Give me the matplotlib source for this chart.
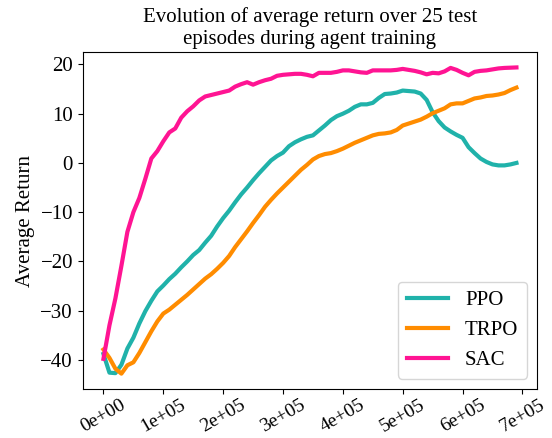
import matplotlib
matplotlib.use("Agg")
import matplotlib.pyplot as plt
import numpy as np
from matplotlib.ticker import FuncFormatter

plt.rcParams['font.family'] = ['Liberation Serif', 'DejaVu Serif']
plt.rcParams['font.size'] = 15

# evaluation every 1e4 timesteps
steps = np.arange(70) * 10000

ppo = [-38.8, -42.6, -42.7, -41.0, -37.7, -35.5, -32.6, -30.1, -28.0, -26.1,
       -24.9, -23.6, -22.5, -21.2, -20.0, -18.7, -17.7, -16.2, -14.8, -12.9,
       -11.2, -9.7, -8.0, -6.4, -5.0, -3.5, -2.1, -0.8, 0.5, 1.4,
       2.1, 3.4, 4.2, 4.8, 5.3, 5.6, 6.6, 7.6, 8.7, 9.5,
       10.0, 10.6, 11.4, 11.9, 11.9, 12.2, 13.2, 14.0, 14.1, 14.3,
       14.7, 14.6, 14.5, 14.1, 12.8, 10.3, 8.5, 7.2, 6.4, 5.7,
       5.1, 3.2, 2.0, 0.9, 0.2, -0.3, -0.5, -0.5, -0.3, 0.0]

trpo = [-37.9, -39.6, -41.8, -42.8, -41.1, -40.5, -38.6, -36.4, -34.2, -32.2,
        -30.6, -29.8, -28.8, -27.8, -26.8, -25.7, -24.6, -23.5, -22.6, -21.5,
        -20.3, -18.9, -17.1, -15.5, -13.9, -12.2, -10.6, -8.9, -7.5, -6.2,
        -5.0, -3.8, -2.6, -1.4, -0.4, 0.7, 1.4, 1.8, 2.0, 2.4,
        2.9, 3.5, 4.1, 4.6, 5.1, 5.6, 5.9, 6.0, 6.2, 6.7,
        7.6, 8.0, 8.4, 8.8, 9.4, 10.1, 10.6, 11.1, 11.9, 12.1,
        12.1, 12.6, 13.1, 13.3, 13.6, 13.7, 13.9, 14.2, 14.8, 15.3]

sac = [-39.8, -33.0, -27.5, -20.9, -14.0, -10.0, -7.1, -3.2, 0.9, 2.4,
       4.4, 6.2, 7.0, 9.2, 10.5, 11.5, 12.7, 13.5, 13.8, 14.1,
       14.4, 14.7, 15.5, 16.0, 16.4, 15.9, 16.4, 16.8, 17.1, 17.7,
       17.9, 18.0, 18.1, 18.1, 17.9, 17.6, 18.3, 18.3, 18.3, 18.5,
       18.8, 18.8, 18.6, 18.4, 18.3, 18.8, 18.8, 18.8, 18.8, 18.9,
       19.1, 18.9, 18.7, 18.4, 18.0, 18.3, 18.2, 18.6, 19.3, 18.9,
       18.3, 17.8, 18.5, 18.7, 18.8, 19.0, 19.2, 19.3, 19.35, 19.4]

fig = plt.figure(figsize=(5.52, 4.38), dpi=100)
ax = fig.add_axes([0.150, 0.112, 0.823, 0.769])

ax.plot(steps, ppo, color='#20b2aa', lw=3, label='PPO')
ax.plot(steps, trpo, color='#ff8c00', lw=3, label='TRPO')
ax.plot(steps, sac, color='#ff1493', lw=3, label='SAC')

ax.set_xticks(np.arange(0, 800000, 100000))
ax.xaxis.set_major_formatter(FuncFormatter(lambda v, p: '{:.0e}'.format(v)))
ax.tick_params(axis='x', labelsize=14, pad=2)
plt.setp(ax.get_xticklabels(), rotation=30)
ax.set_ylabel("Average Return")
ax.set_title("Evolution of average return over 25 test\nepisodes during agent training", fontsize=15)
ax.legend(loc='lower right', fontsize=15)

fig.savefig("out.png", dpi=100)
